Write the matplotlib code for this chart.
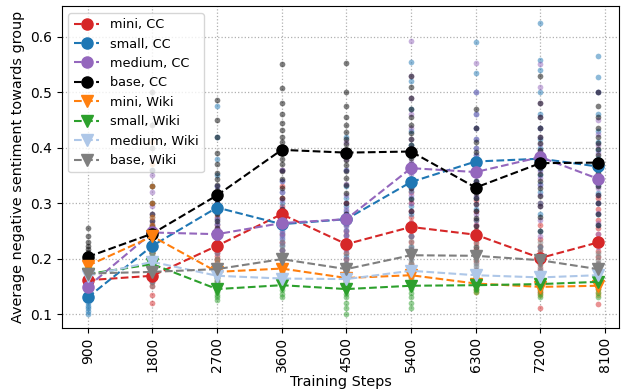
import matplotlib
matplotlib.use("Agg")
import matplotlib.pyplot as plt

# ---------------- data ----------------
tick_positions = [900, 1800, 2700, 3600, 4500, 5400, 6300, 7200, 8100]
tick_labels = ["900", "1800", "2700", "3600", "4500", "5400", "6300", "7200", "8100"]
steps = [900, 1800, 2700, 3600, 4500, 5400, 6300, 7200, 8000]

series_names = ["mini, CC", "small, CC", "medium, CC", "base, CC",
                "mini, Wiki", "small, Wiki", "medium, Wiki", "base, Wiki"]
series_colors = ["tab:red", "tab:blue", "tab:purple", "black",
                 "tab:orange", "tab:green", "#aec7e8", "tab:gray"]
series_markers = ["o", "o", "o", "o", "v", "v", "v", "v"]

# mean values (lines)
mini_cc = [0.161, 0.169, 0.223, 0.280, 0.226, 0.257, 0.243, 0.201, 0.229]
small_cc = [0.130, 0.223, 0.292, 0.262, 0.271, 0.338, 0.375, 0.380, 0.366]
medium_cc = [0.149, 0.247, 0.244, 0.264, 0.271, 0.363, 0.356, 0.383, 0.344]
base_cc = [0.203, 0.245, 0.314, 0.396, 0.391, 0.393, 0.328, 0.372, 0.373]
mini_wiki = [0.187, 0.240, 0.176, 0.182, 0.165, 0.170, 0.155, 0.149, 0.151]
small_wiki = [0.172, 0.190, 0.145, 0.152, 0.145, 0.151, 0.152, 0.154, 0.158]
medium_wiki = [0.169, 0.194, 0.169, 0.164, 0.163, 0.178, 0.170, 0.166, 0.170]
base_wiki = [0.173, 0.176, 0.181, 0.199, 0.181, 0.206, 0.205, 0.197, 0.181]

# individual points (scatter), one list per step
mini_cc_pts = [
    [0.155, 0.157, 0.159, 0.160, 0.161, 0.162, 0.163, 0.165, 0.167, 0.170],
    [0.12, 0.135, 0.15, 0.158, 0.163, 0.167, 0.172, 0.178, 0.185, 0.195, 0.21, 0.22],
    [0.18, 0.19, 0.198, 0.205, 0.212, 0.218, 0.224, 0.23, 0.238, 0.248, 0.26, 0.275, 0.3],
    [0.2, 0.215, 0.23, 0.245, 0.258, 0.268, 0.277, 0.286, 0.295, 0.31, 0.33, 0.36, 0.4],
    [0.17, 0.18, 0.19, 0.2, 0.21, 0.218, 0.226, 0.234, 0.242, 0.25, 0.262, 0.28, 0.3],
    [0.19, 0.205, 0.218, 0.23, 0.24, 0.25, 0.258, 0.266, 0.275, 0.285, 0.3, 0.32, 0.34],
    [0.18, 0.195, 0.207, 0.218, 0.228, 0.236, 0.244, 0.252, 0.26, 0.27, 0.285, 0.305, 0.33],
    [0.11, 0.14, 0.16, 0.172, 0.182, 0.19, 0.198, 0.205, 0.213, 0.222, 0.235, 0.26, 0.3],
    [0.118, 0.15, 0.175, 0.19, 0.203, 0.214, 0.224, 0.234, 0.245, 0.256, 0.27, 0.29, 0.31],
]
small_cc_pts = [
    [0.1, 0.105, 0.11, 0.115, 0.12, 0.125, 0.13, 0.135, 0.14, 0.145, 0.15],
    [0.16, 0.175, 0.185, 0.195, 0.205, 0.212, 0.22, 0.228, 0.236, 0.245, 0.258, 0.275, 0.3, 0.33, 0.36],
    [0.2, 0.22, 0.235, 0.25, 0.262, 0.272, 0.282, 0.29, 0.298, 0.306, 0.316, 0.33, 0.35, 0.38, 0.42, 0.475],
    [0.2, 0.215, 0.225, 0.235, 0.243, 0.25, 0.257, 0.263, 0.27, 0.278, 0.287, 0.3, 0.32, 0.34, 0.36],
    [0.19, 0.205, 0.22, 0.232, 0.243, 0.252, 0.26, 0.268, 0.276, 0.285, 0.295, 0.31, 0.33, 0.36, 0.39, 0.42],
    [0.22, 0.24, 0.26, 0.28, 0.295, 0.31, 0.322, 0.333, 0.344, 0.356, 0.37, 0.385, 0.405, 0.43, 0.47, 0.52, 0.555],
    [0.25, 0.27, 0.29, 0.31, 0.325, 0.34, 0.352, 0.363, 0.374, 0.386, 0.4, 0.415, 0.435, 0.46, 0.5, 0.535, 0.59],
    [0.22, 0.25, 0.28, 0.3, 0.32, 0.335, 0.35, 0.362, 0.374, 0.386, 0.4, 0.415, 0.435, 0.46, 0.5, 0.54, 0.558, 0.625],
    [0.23, 0.26, 0.28, 0.3, 0.318, 0.333, 0.346, 0.358, 0.37, 0.382, 0.395, 0.41, 0.43, 0.46, 0.5, 0.528, 0.566],
]
medium_cc_pts = [
    [0.135, 0.14, 0.144, 0.147, 0.15, 0.153, 0.156, 0.16, 0.165],
    [0.2, 0.212, 0.222, 0.23, 0.237, 0.243, 0.249, 0.255, 0.262, 0.27, 0.28, 0.295, 0.32, 0.35, 0.38],
    [0.2, 0.21, 0.218, 0.225, 0.232, 0.238, 0.244, 0.25, 0.256, 0.263, 0.272, 0.285, 0.3, 0.33],
    [0.2, 0.215, 0.228, 0.238, 0.246, 0.254, 0.261, 0.268, 0.275, 0.283, 0.292, 0.305, 0.32, 0.34, 0.36],
    [0.2, 0.215, 0.228, 0.24, 0.25, 0.258, 0.266, 0.274, 0.282, 0.29, 0.3, 0.315, 0.335, 0.36, 0.38, 0.41],
    [0.24, 0.265, 0.285, 0.3, 0.315, 0.328, 0.34, 0.352, 0.363, 0.375, 0.388, 0.4, 0.415, 0.435, 0.46, 0.49, 0.53, 0.592],
    [0.24, 0.26, 0.28, 0.298, 0.313, 0.326, 0.338, 0.35, 0.361, 0.373, 0.386, 0.4, 0.415, 0.435, 0.46, 0.5, 0.553],
    [0.24, 0.27, 0.295, 0.315, 0.332, 0.346, 0.358, 0.37, 0.382, 0.394, 0.407, 0.42, 0.435, 0.455, 0.48, 0.51, 0.55],
    [0.22, 0.245, 0.265, 0.283, 0.3, 0.314, 0.327, 0.339, 0.35, 0.362, 0.375, 0.39, 0.405, 0.425, 0.45, 0.5],
]
base_cc_pts = [
    [0.18, 0.186, 0.19, 0.194, 0.198, 0.201, 0.204, 0.208, 0.212, 0.217, 0.223, 0.23, 0.24, 0.255],
    [0.19, 0.2, 0.21, 0.218, 0.225, 0.232, 0.238, 0.244, 0.25, 0.258, 0.268, 0.28, 0.3, 0.33, 0.36, 0.4, 0.44, 0.5],
    [0.22, 0.24, 0.255, 0.268, 0.28, 0.29, 0.3, 0.308, 0.316, 0.324, 0.333, 0.343, 0.355, 0.37, 0.39, 0.42, 0.45, 0.485],
    [0.27, 0.29, 0.31, 0.328, 0.344, 0.358, 0.37, 0.38, 0.39, 0.4, 0.41, 0.42, 0.432, 0.445, 0.46, 0.48, 0.507, 0.551],
    [0.28, 0.3, 0.318, 0.333, 0.346, 0.358, 0.368, 0.378, 0.387, 0.396, 0.406, 0.416, 0.428, 0.44, 0.455, 0.475, 0.5, 0.553],
    [0.26, 0.285, 0.308, 0.327, 0.343, 0.357, 0.37, 0.382, 0.393, 0.404, 0.415, 0.427, 0.44, 0.455, 0.47, 0.49, 0.51, 0.53],
    [0.22, 0.24, 0.258, 0.273, 0.286, 0.298, 0.309, 0.319, 0.329, 0.339, 0.35, 0.362, 0.376, 0.392, 0.41, 0.435, 0.47],
    [0.25, 0.275, 0.295, 0.312, 0.327, 0.34, 0.352, 0.363, 0.374, 0.385, 0.396, 0.408, 0.42, 0.435, 0.455, 0.48, 0.53],
    [0.26, 0.28, 0.3, 0.315, 0.33, 0.343, 0.355, 0.366, 0.376, 0.386, 0.397, 0.408, 0.42, 0.435, 0.455, 0.475, 0.5],
]
mini_wiki_pts = [
    [0.18, 0.183, 0.185, 0.187, 0.189, 0.191, 0.194],
    [0.2, 0.21, 0.22, 0.228, 0.235, 0.242, 0.25, 0.26, 0.275, 0.3, 0.33, 0.37, 0.41],
    [0.16, 0.165, 0.17, 0.174, 0.178, 0.182, 0.187, 0.193, 0.2],
    [0.165, 0.17, 0.175, 0.179, 0.183, 0.187, 0.192, 0.2],
    [0.15, 0.155, 0.16, 0.164, 0.168, 0.172, 0.177, 0.18],
    [0.155, 0.16, 0.165, 0.169, 0.173, 0.178, 0.184, 0.19],
    [0.14, 0.145, 0.15, 0.154, 0.158, 0.162, 0.166, 0.17],
    [0.135, 0.14, 0.145, 0.149, 0.153, 0.157, 0.161, 0.165],
    [0.135, 0.14, 0.145, 0.15, 0.154, 0.158, 0.162, 0.165],
]
small_wiki_pts = [
    [0.165, 0.168, 0.171, 0.173, 0.175, 0.178, 0.18],
    [0.17, 0.176, 0.182, 0.187, 0.192, 0.197, 0.204, 0.212, 0.22],
    [0.125, 0.13, 0.135, 0.14, 0.144, 0.148, 0.152, 0.157, 0.162, 0.165],
    [0.13, 0.137, 0.143, 0.148, 0.152, 0.156, 0.16, 0.165, 0.17],
    [0.1, 0.11, 0.12, 0.13, 0.137, 0.143, 0.148, 0.153, 0.158, 0.163, 0.17],
    [0.111, 0.12, 0.13, 0.138, 0.145, 0.151, 0.156, 0.161, 0.166, 0.17],
    [0.14, 0.143, 0.146, 0.149, 0.152, 0.155, 0.158, 0.162, 0.167],
    [0.13, 0.137, 0.143, 0.148, 0.153, 0.157, 0.161, 0.165, 0.17],
    [0.13, 0.138, 0.145, 0.15, 0.155, 0.16, 0.165, 0.17, 0.175],
]
medium_wiki_pts = [
    [0.16, 0.163, 0.166, 0.169, 0.172, 0.175, 0.18],
    [0.17, 0.177, 0.183, 0.189, 0.194, 0.2, 0.207, 0.215, 0.228, 0.25],
    [0.15, 0.155, 0.16, 0.165, 0.169, 0.173, 0.178, 0.184, 0.19],
    [0.15, 0.154, 0.158, 0.162, 0.166, 0.17, 0.175, 0.18],
    [0.15, 0.154, 0.158, 0.162, 0.166, 0.17, 0.175, 0.18],
    [0.16, 0.165, 0.17, 0.175, 0.18, 0.185, 0.192, 0.2],
    [0.155, 0.16, 0.164, 0.168, 0.172, 0.177, 0.183, 0.19],
    [0.15, 0.155, 0.159, 0.163, 0.167, 0.171, 0.176, 0.18],
    [0.155, 0.16, 0.164, 0.168, 0.172, 0.177, 0.183, 0.19],
]
base_wiki_pts = [
    [0.165, 0.168, 0.171, 0.173, 0.175, 0.178, 0.181, 0.185],
    [0.15, 0.158, 0.165, 0.17, 0.175, 0.18, 0.186, 0.193, 0.2, 0.21],
    [0.16, 0.166, 0.172, 0.177, 0.181, 0.186, 0.192, 0.2, 0.21, 0.22],
    [0.17, 0.178, 0.185, 0.191, 0.197, 0.203, 0.209, 0.216, 0.223, 0.23],
    [0.16, 0.166, 0.172, 0.177, 0.181, 0.186, 0.192, 0.2, 0.21, 0.22],
    [0.18, 0.186, 0.192, 0.198, 0.204, 0.21, 0.216, 0.223, 0.231, 0.24],
    [0.18, 0.186, 0.192, 0.198, 0.204, 0.21, 0.216, 0.223, 0.231, 0.24],
    [0.17, 0.177, 0.184, 0.19, 0.196, 0.202, 0.208, 0.215, 0.222, 0.23],
    [0.16, 0.166, 0.172, 0.177, 0.181, 0.186, 0.192, 0.198, 0.204, 0.21],
]

means = [mini_cc, small_cc, medium_cc, base_cc, mini_wiki, small_wiki, medium_wiki, base_wiki]
points = [mini_cc_pts, small_cc_pts, medium_cc_pts, base_cc_pts,
          mini_wiki_pts, small_wiki_pts, medium_wiki_pts, base_wiki_pts]

# ---------------- plot ----------------
fig = plt.figure(figsize=(6.21, 3.92), dpi=100)
ax = fig.add_axes([0.0998, 0.1645, 0.897, 0.819])

for pts, color in zip(points, series_colors):
    for x, vals in zip(steps, pts):
        ax.scatter([x] * len(vals), vals, s=17, color=color, alpha=0.5,
                   linewidths=0, zorder=2)

for vals, name, color, marker in zip(means, series_names, series_colors, series_markers):
    ax.plot(steps, vals, linestyle="--", marker=marker, color=color,
            markersize=8, linewidth=1.5, label=name, zorder=4)

ax.set_xticks(tick_positions)
ax.set_xticklabels(tick_labels, rotation=90, fontsize=10)
ax.tick_params(axis="y", labelsize=10)
ax.set_xlim(542, 8295)
ax.set_ylim(0.0757, 0.6545)
ax.set_yticks([0.1, 0.2, 0.3, 0.4, 0.5, 0.6])
ax.set_xlabel("Training Steps", fontsize=10.4, labelpad=2)
ax.set_ylabel("Average negative sentiment towards group", fontsize=10.4)
ax.grid(True, linestyle=":", color="#b0b0b0", linewidth=0.9, zorder=0)
ax.set_axisbelow(True)
ax.legend(loc="upper left", fontsize=9.3)

fig.savefig("out.png", dpi=100)
